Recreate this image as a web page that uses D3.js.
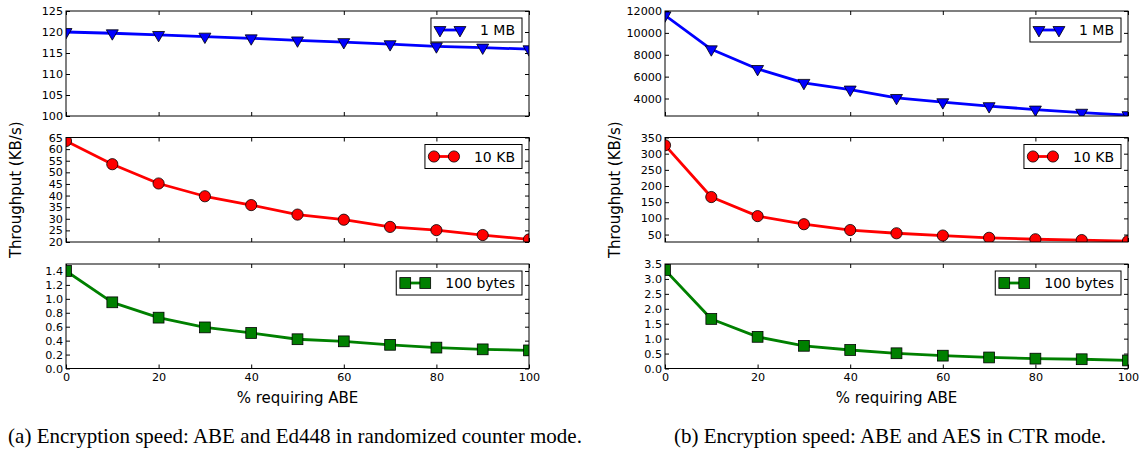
<!DOCTYPE html>
<html><head><meta charset="utf-8">
<script src="https://cdn.jsdelivr.net/npm/d3@7"></script>
<style>body{margin:0;background:#fff} svg{display:block}</style>
</head><body>
<svg id="c" width="1143" height="450"></svg>
<script>
// ---- data ----
const xPercent = [0, 10, 20, 30, 40, 50, 60, 70, 80, 90, 100];
const xTicks = [0, 20, 40, 60, 80, 100];

const leftMB    = [120.0, 119.7, 119.3, 118.9, 118.5, 118.0, 117.6, 117.1, 116.6, 116.3, 115.9];
const leftKB    = [63.5, 53.5, 45.2, 39.7, 35.9, 31.8, 29.6, 26.5, 25.1, 23.0, 21.1];
const leftBytes = [1.40, 0.95, 0.73, 0.59, 0.51, 0.42, 0.39, 0.34, 0.30, 0.275, 0.26];

const rightMB    = [11600, 8500, 6700, 5430, 4820, 4050, 3660, 3300, 2990, 2700, 2480];
const rightKB    = [326, 166, 107, 82, 64, 54, 47, 40, 35.5, 33, 30];
const rightBytes = [3.30, 1.66, 1.06, 0.76, 0.62, 0.51, 0.43, 0.37, 0.33, 0.31, 0.27];

const yTicksLeftMB = [100, 105, 110, 115, 120, 125];
const yTicksLeftKB = [20, 25, 30, 35, 40, 45, 50, 55, 60, 65];
const yTicksLeftBytes = [0.0, 0.2, 0.4, 0.6, 0.8, 1.0, 1.2, 1.4];
const yTicksRightMB = [4000, 6000, 8000, 10000, 12000];
const yTicksRightKB = [50, 100, 150, 200, 250, 300, 350];
const yTicksRightBytes = [0.0, 0.5, 1.0, 1.5, 2.0, 2.5, 3.0, 3.5];

const yDomLeftMB = [100, 125], yDomLeftKB = [20, 65], yDomLeftBytes = [0, 1.5];
const yDomRightMB = [2400, 12000], yDomRightKB = [27, 350], yDomRightBytes = [0, 3.5];

const seriesNames = ["1 MB", "10 KB", "100 bytes"];
const xLabel = "% requiring ABE";
const yLabel = "Throughput (KB/s)";
const captions = ["(a) Encryption speed: ABE and Ed448 in randomized counter mode.",
                  "(b) Encryption speed: ABE and AES in CTR mode."];

// ---- layout ----
const svg = d3.select("#c");
const W = 463;
const panelX = [66, 665];
const rowY = [[11, 116], [137.5, 242], [264, 368.5]];
const colors = ["#0000ff", "#ff0000", "#008000"];
const symbols = ["tri", "circle", "square"];
const tickFont = "11.2px";
const fontFam = "'DejaVu Sans', sans-serif";

const panels = [
  {rows: [
    {vals: leftMB, dom: yDomLeftMB, ticks: yTicksLeftMB, fmt: d3.format("d")},
    {vals: leftKB, dom: yDomLeftKB, ticks: yTicksLeftKB, fmt: d3.format("d")},
    {vals: leftBytes, dom: yDomLeftBytes, ticks: yTicksLeftBytes, fmt: d3.format(".1f")}]},
  {rows: [
    {vals: rightMB, dom: yDomRightMB, ticks: yTicksRightMB, fmt: d3.format("d")},
    {vals: rightKB, dom: yDomRightKB, ticks: yTicksRightKB, fmt: d3.format("d")},
    {vals: rightBytes, dom: yDomRightBytes, ticks: yTicksRightBytes, fmt: d3.format(".1f")}]}
];

function marker(sel, kind, color) {
  if (kind === "tri") {
    sel.append("path").attr("d", d3.symbol(d3.symbolTriangle, 62)())
      .attr("transform", "rotate(180)");
  } else if (kind === "circle") {
    sel.append("circle").attr("r", 5.6);
  } else {
    sel.append("rect").attr("x", -5.4).attr("y", -5.4).attr("width", 10.8).attr("height", 10.8);
  }
  sel.selectAll("*").attr("fill", color).attr("stroke", "#000").attr("stroke-width", 0.8);
}

panels.forEach((p, pi) => {
  const x = d3.scaleLinear().domain([0, 100]).range([0, W]);
  p.rows.forEach((r, ri) => {
    const [y0, y1] = rowY[ri];
    const h = y1 - y0;
    const y = d3.scaleLinear().domain(r.dom).range([h, 0]);
    const g = svg.append("g").attr("transform", `translate(${panelX[pi]},${y0})`);
    const cid = `clip${pi}${ri}`;
    g.append("clipPath").attr("id", cid).append("rect").attr("width", W).attr("height", h);

    // axes (ticks inward on all sides)
    const ax = (a) => a.tickSizeInner(-4).tickSizeOuter(0);
    const gl = g.append("g").call(ax(d3.axisLeft(y)).tickValues(r.ticks).tickFormat(r.fmt).tickPadding(3));
    const gr = g.append("g").attr("transform", `translate(${W},0)`).call(ax(d3.axisRight(y)).tickValues(r.ticks).tickFormat(""));
    const gt = g.append("g").call(ax(d3.axisTop(x)).tickValues(xTicks).tickFormat(""));
    const gb = g.append("g").attr("transform", `translate(0,${h})`)
      .call(ax(d3.axisBottom(x)).tickValues(xTicks).tickFormat(ri === 2 ? d3.format("d") : "").tickPadding(5));
    [gl, gr, gt, gb].forEach(a => {
      a.select(".domain").remove();
      a.selectAll("line").attr("stroke", "#000").attr("stroke-width", 1);
      a.selectAll("text").attr("fill", "#000").style("font-size", tickFont).style("font-family", fontFam);
    });

    // line + markers
    const data = xPercent.map((xv, i) => [xv, r.vals[i]]);
    const pg = g.append("g").attr("clip-path", `url(#${cid})`);
    pg.append("path").datum(data)
      .attr("d", d3.line().x(d => x(d[0])).y(d => y(d[1])))
      .attr("fill", "none").attr("stroke", colors[ri]).attr("stroke-width", 2.8)
      .attr("stroke-linejoin", "round");
    pg.selectAll("g.m").data(data).enter().append("g").attr("class", "m")
      .attr("transform", d => `translate(${x(d[0])},${y(d[1])})`)
      .each(function () { marker(d3.select(this), symbols[ri], colors[ri]); });

    // spines
    g.append("rect").attr("width", W).attr("height", h).attr("fill", "none")
      .attr("stroke", "#000").attr("stroke-width", 1);

    // legend
    const lg = g.append("g");
    const txt = lg.append("text").text(seriesNames[ri])
      .style("font-size", "14px").style("font-family", fontFam)
      .attr("x", 49).attr("y", 12).attr("dy", "0.36em").attr("fill", "#000");
    const tw = txt.node().getComputedTextLength();
    const bw = 49 + tw + 7;
    lg.insert("rect", "text").attr("width", bw).attr("height", 24)
      .attr("fill", "#fff").attr("stroke", "#000").attr("stroke-width", 1);
    lg.insert("line", "text").attr("x1", 9).attr("x2", 29).attr("y1", 12).attr("y2", 12)
      .attr("stroke", colors[ri]).attr("stroke-width", 2.8);
    [9, 29].forEach(mx => {
      const mg = lg.insert("g", "text").attr("transform", `translate(${mx},12)`);
      marker(mg, symbols[ri], colors[ri]);
    });
    lg.attr("transform", `translate(${W - 7 - bw},7)`);
  });

  // axis labels
  const cx = panelX[pi] + W / 2;
  svg.append("text").text(xLabel).attr("x", cx).attr("y", 403)
    .attr("text-anchor", "middle").style("font-size", "15px").style("font-family", fontFam);
  svg.append("text").text(yLabel)
    .attr("transform", `translate(${panelX[pi] - 45},${(rowY[0][0] + rowY[2][1]) / 2}) rotate(-90)`)
    .attr("text-anchor", "middle").style("font-size", "15px").style("font-family", fontFam);
  svg.append("text").text(captions[pi]).attr("x", pi === 0 ? 295 : 890).attr("y", 443)
    .attr("text-anchor", "middle").style("font-size", "21px")
    .style("font-family", "'Liberation Serif', 'Times New Roman', serif");
});
</script>
</body></html>
